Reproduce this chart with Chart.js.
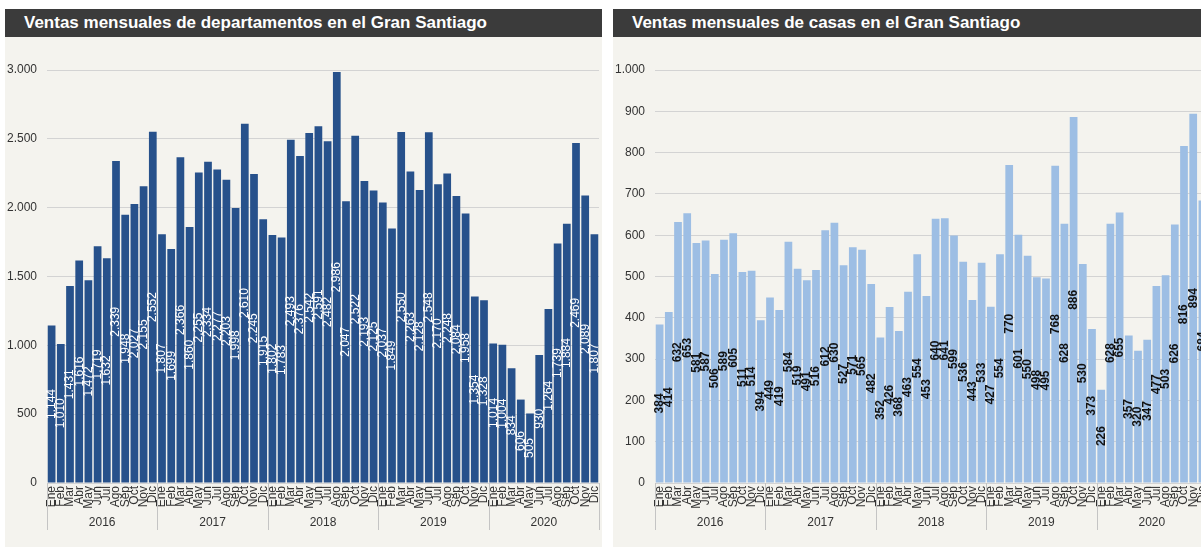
<!DOCTYPE html>
<html>
<head>
<meta charset="utf-8">
<script src="https://cdn.jsdelivr.net/npm/chart.js@4/dist/chart.umd.min.js"></script>
<style>
  html, body { margin:0; padding:0; background:#ffffff; width:1201px; height:550px; overflow:hidden; }
  .panel { position:absolute; top:9px; width:597px; height:538px; background:#f4f3ee; }
  .title { height:28px; background:#3b3b3b; color:#fff; font:bold 17px "Liberation Sans", Arial, sans-serif; line-height:28px; padding-left:19px; white-space:nowrap; }
  .panel canvas { position:absolute; left:0; top:28px; }
</style>
</head>
<body>
<div class="panel" style="left:5px;">
  <div class="title">Ventas mensuales de departamentos en el Gran Santiago</div>
  <canvas id="c1" width="597" height="510"></canvas>
</div>
<div class="panel" style="left:613px;">
  <div class="title">Ventas mensuales de casas en el Gran Santiago</div>
  <canvas id="c2" width="597" height="510"></canvas>
</div>
<script>
const months = ["Ene","Feb","Mar","Abr","May","Jun","Jul","Ago","Sep","Oct","Nov","Dic"];
const years = ["2016","2017","2018","2019","2020"];

const departamentos = [
  1144, 1010, 1431, 1616, 1472, 1719, 1632, 2339, 1948, 2027, 2155, 2552,
  1807, 1699, 2366, 1860, 2255, 2334, 2277, 2203, 1998, 2610, 2245, 1915,
  1802, 1783, 2493, 2376, 2542, 2591, 2482, 2986, 2047, 2522, 2193, 2125,
  2037, 1849, 2550, 2263, 2128, 2548, 2170, 2248, 2084, 1958, 1354, 1328,
  1014, 1004, 834, 606, 505, 930, 1264, 1739, 1884, 2469, 2089, 1807
];
const casas = [
  384, 414, 632, 653, 581, 587, 506, 589, 605, 511, 514, 394,
  449, 419, 584, 519, 491, 516, 612, 630, 527, 571, 565, 482,
  352, 426, 368, 463, 554, 453, 640, 641, 599, 536, 443, 533,
  427, 554, 770, 601, 550, 498, 495, 768, 628, 886, 530, 373,
  226, 628, 655, 357, 320, 347, 477, 503, 626, 816, 894, 684
];

const labels = [];
years.forEach(() => months.forEach(m => labels.push(m)));

const FONT = '"Liberation Sans", Arial, sans-serif';
function fmt(v) { return String(v).replace(/\B(?=(\d{3})+(?!\d))/g, "."); }

const valueLabels = {
  id: 'valueLabels',
  afterDatasetsDraw(chart, args, opts) {
    const ctx = chart.ctx;
    const meta = chart.getDatasetMeta(0);
    const data = chart.data.datasets[0].data;
    ctx.save();
    ctx.font = opts.font;
    ctx.fillStyle = opts.color;
    ctx.textAlign = 'center';
    ctx.textBaseline = 'middle';
    meta.data.forEach((bar, i) => {
      const p = bar.getProps(['x', 'y', 'base'], true);
      ctx.save();
      ctx.translate(p.x, (p.y + p.base) / 2);
      ctx.rotate(-Math.PI / 2);
      ctx.fillText(fmt(data[i]), 0, 0);
      ctx.restore();
    });
    ctx.restore();
  }
};

const yearSeparators = {
  id: 'yearSeparators',
  afterDraw(chart) {
    const xs = chart.scales.x, x2 = chart.scales.x2;
    const ctx = chart.ctx;
    const half = (x2.getPixelForTick(1) - x2.getPixelForTick(0)) / 2;
    ctx.save();
    ctx.strokeStyle = '#c4c4c4';
    ctx.lineWidth = 1;
    for (let k = 0; k <= years.length; k++) {
      const px = k < years.length ? x2.getPixelForTick(k) - half : x2.getPixelForTick(years.length - 1) + half;
      const xx = Math.round(px) + 0.5;
      ctx.beginPath();
      ctx.moveTo(xx, xs.top);
      ctx.lineTo(xx, x2.top + 17);
      ctx.stroke();
    }
    ctx.restore();
  }
};

function noPad(s) { s.paddingLeft = 0; s.paddingRight = 0; s.paddingTop = 0; s.paddingBottom = 0; }

function makeChart(id, values, color, maxV, step, labelColor, labelFont) {
  return new Chart(document.getElementById(id), {
    type: 'bar',
    data: {
      labels: labels,
      datasets: [{
        data: values,
        backgroundColor: color,
        barPercentage: 0.84,
        categoryPercentage: 1.0
      }]
    },
    options: {
      responsive: false,
      animation: false,
      layout: { padding: { top: 33, right: 3, bottom: 8, left: 0 } },
      plugins: {
        legend: { display: false },
        tooltip: { enabled: false },
        valueLabels: { color: labelColor, font: labelFont }
      },
      scales: {
        x: {
          position: 'bottom',
          grid: { display: false, drawTicks: false },
          border: { display: false },
          ticks: {
            autoSkip: false, maxRotation: 90, minRotation: 90, padding: 3,
            color: '#333', font: { family: FONT, size: 12 }
          },
          afterFit(s) { s.height = 30; noPad(s); }
        },
        x2: {
          type: 'category',
          labels: years,
          position: 'bottom',
          offset: true,
          grid: { display: false, drawTicks: false },
          border: { display: false },
          ticks: { maxRotation: 0, padding: 2, color: '#333', font: { family: FONT, size: 12 } },
          afterFit(s) { s.height = 26; noPad(s); }
        },
        y: {
          min: 0, max: maxV,
          border: { display: false },
          grid: { color: '#d3d3d3', drawTicks: false },
          ticks: {
            stepSize: step, padding: 10, color: '#333',
            font: { family: FONT, size: 12 },
            callback: v => fmt(v)
          },
          afterFit(s) { s.width = 42; noPad(s); }
        }
      }
    },
    plugins: [valueLabels, yearSeparators]
  });
}

makeChart('c1', departamentos, '#27518b', 3000, 500, '#ffffff', '12px ' + FONT);
makeChart('c2', casas, '#9dbee4', 1000, 100, '#111111', 'bold 12px ' + FONT);
</script>
</body>
</html>
